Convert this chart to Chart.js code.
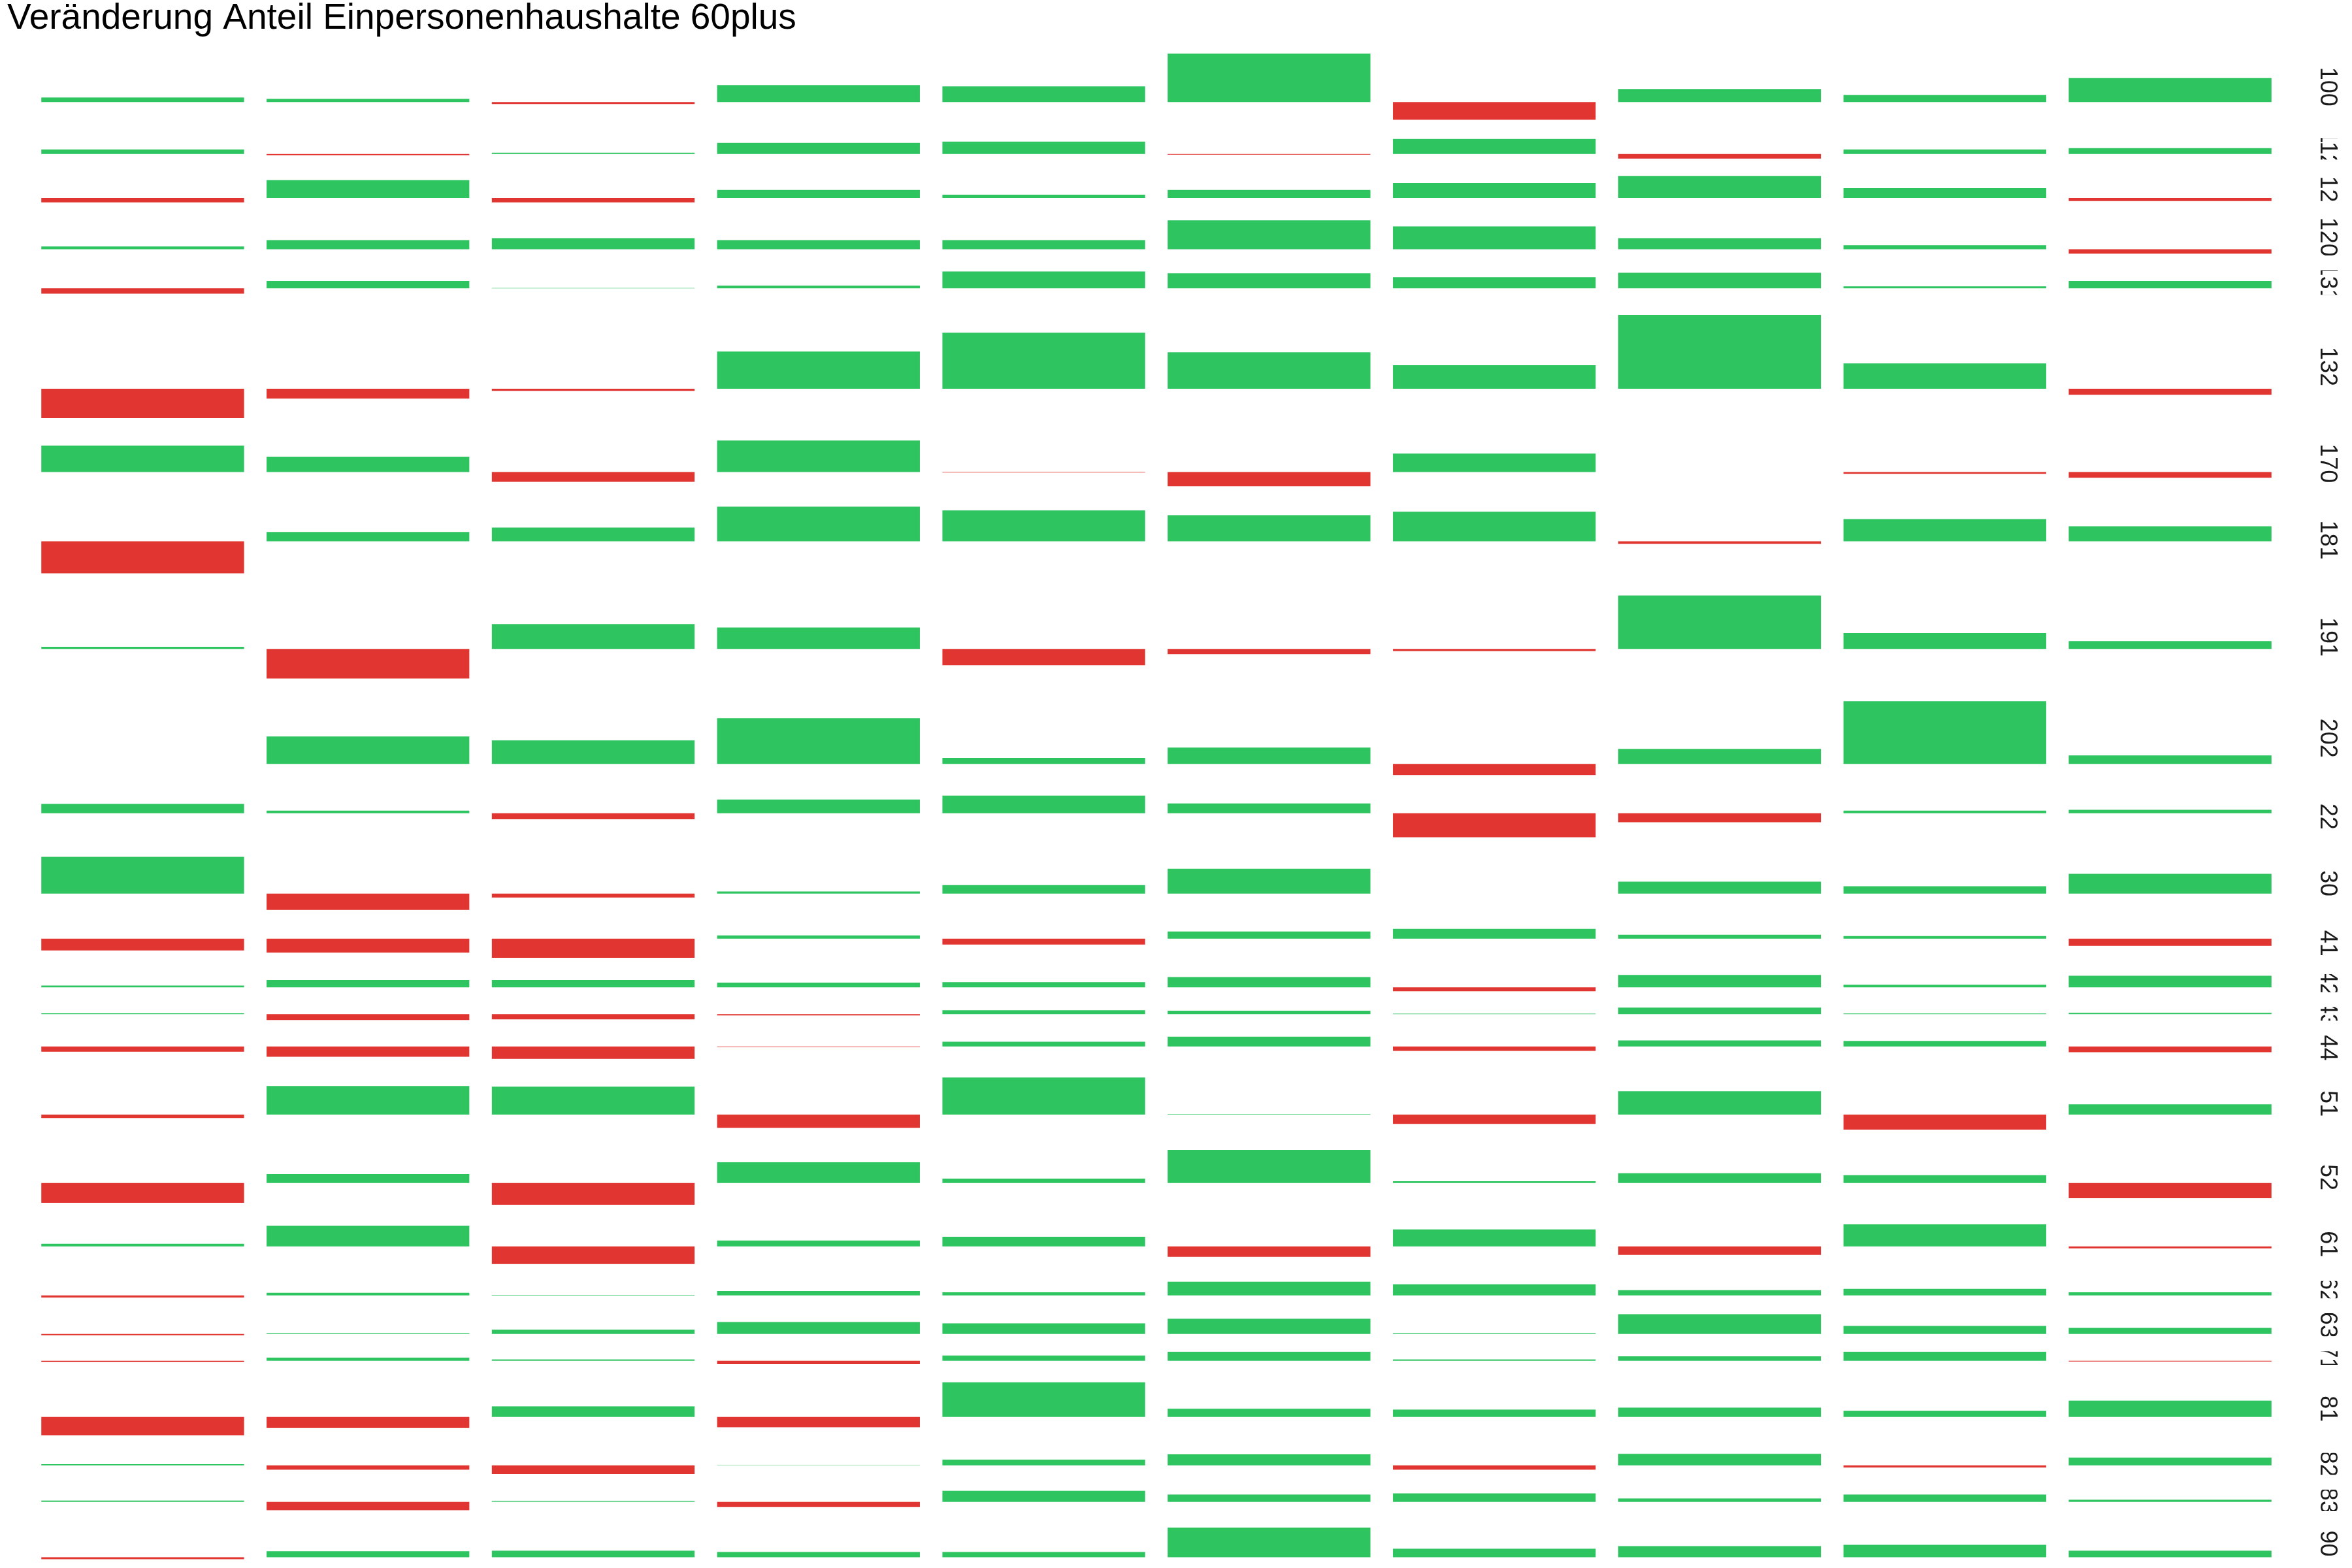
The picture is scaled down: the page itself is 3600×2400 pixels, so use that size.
<!doctype html>
<html lang="de">
<head>
  <meta charset="utf-8">
  <title>Veränderung Anteil Einpersonenhaushalte 60plus</title>
  <script src="https://cdn.jsdelivr.net/npm/chart.js"></script>
  <style>
    html, body {
      margin: 0;
      padding: 0;
      background-color: #ffffff;
    }
    #chart {
      display: block;
      width: 3600px;
      height: 2400px;
    }
  </style>
</head>
<body>
  <canvas id="chart" width="3600" height="2400"></canvas>

  <script>
    // Daten (Veränderung in Prozentpunkten)
    const titel = "Veränderung Anteil Einpersonenhaushalte 60plus";
    const spalten = ["1", "2", "3", "4", "5", "6", "7", "8", "9", "10"];
    const zeilen = ["100", "112", "12", "120", "131", "132", "170", "181", "191", "202", "22", "30", "41",
                    "42", "43", "44", "51", "52", "61", "62", "63", "71", "81", "82", "83", "90"];

    const w100 = [0.36, 0.26, -0.14, 1.31, 1.21, 3.72, -1.35, 1.01, 0.56, 1.86];
    const w112 = [0.34, -0.10, 0.10, 0.85, 0.95, -0.06, 1.15, -0.36, 0.34, 0.44];
    const w12  = [-0.34, 1.37, -0.34, 0.62, 0.26, 0.62, 1.15, 1.70, 0.75, -0.24];
    const w120 = [0.22, 0.71, 0.85, 0.71, 0.71, 2.22, 1.76, 0.85, 0.32, -0.34];
    const w131 = [-0.42, 0.56, 0.02, 0.20, 1.29, 1.15, 0.85, 1.19, 0.14, 0.56];
    const w132 = [-2.26, -0.75, -0.16, 2.85, 4.29, 2.79, 1.80, 5.66, 1.94, -0.46];
    const w170 = [2.02, 1.17, -0.75, 2.41, -0.04, -1.09, 1.41, 0, -0.14, -0.44];
    const w181 = [-2.45, 0.71, 1.05, 2.65, 2.36, 2.00, 2.26, -0.20, 1.70, 1.15];
    const w191 = [0.16, -2.26, 1.90, 1.64, -1.25, -0.40, -0.16, 4.09, 1.21, 0.60];
    const w202 = [0, 2.10, 1.80, 3.50, 0.46, 1.25, -0.85, 1.15, 4.81, 0.65];
    const w22  = [0.71, 0.20, -0.46, 1.05, 1.35, 0.75, -1.84, -0.69, 0.20, 0.26];
    const w30  = [2.81, -1.25, -0.30, 0.16, 0.65, 1.90, 0, 0.91, 0.56, 1.51];
    const w41  = [-0.91, -1.07, -1.47, 0.24, -0.46, 0.54, 0.75, 0.30, 0.20, -0.56];
    const w42  = [0.14, 0.56, 0.56, 0.36, 0.40, 0.79, -0.30, 0.95, 0.20, 0.89];
    const w43  = [0.06, -0.46, -0.40, -0.10, 0.30, 0.26, 0.03, 0.50, 0.05, 0.10];
    const w44  = [-0.40, -0.79, -0.95, -0.04, 0.36, 0.75, -0.34, 0.46, 0.42, -0.44];
    const w51  = [-0.26, 2.20, 2.14, -1.01, 2.85, 0.04, -0.71, 1.80, -1.15, 0.79];
    const w52  = [-1.51, 0.69, -1.66, 1.59, 0.34, 2.54, 0.14, 0.75, 0.60, -1.17];
    const w61  = [0.20, 1.60, -1.35, 0.46, 0.75, -0.79, 1.31, -0.65, 1.70, -0.14];
    const w62  = [-0.16, 0.20, 0.04, 0.34, 0.24, 1.05, 0.85, 0.40, 0.50, 0.24];
    const w63  = [-0.10, 0.06, 0.32, 0.91, 0.81, 1.17, 0.06, 1.51, 0.62, 0.46];
    const w71  = [-0.10, 0.24, 0.10, -0.26, 0.40, 0.69, 0.10, 0.34, 0.69, -0.06];
    const w81  = [-1.41, -0.85, 0.81, -0.79, 2.65, 0.62, 0.56, 0.71, 0.46, 1.25];
    const w82  = [0.10, -0.32, -0.65, 0.03, 0.44, 0.85, -0.32, 0.89, -0.16, 0.60];
    const w83  = [0.10, -0.64, 0.06, -0.40, 0.85, 0.56, 0.65, 0.26, 0.56, 0.16];
    const w90  = [-0.16, 0.46, 0.50, 0.40, 0.40, 2.26, 0.65, 0.85, 0.95, 0.50];

    const werte = [w100, w112, w12, w120, w131, w132, w170, w181, w191, w202, w22, w30, w41,
                   w42, w43, w44, w51, w52, w61, w62, w63, w71, w81, w82, w83, w90];

    const GRUEN = "#2ec460";
    const ROT = "#e03530";
    const ABSTAND = 1.14; // Abstand zwischen den Zeilen, in Datenwerten

    // Jede Zeile bekommt eine eigene y-Achse; die Achsen werden gestapelt,
    // Höhe jeweils proportional zur Spannweite (wie facet_grid mit space = "free")
    const grenzen = werte.map(reihe => {
      const hi = Math.max(0, ...reihe);
      const lo = Math.min(0, ...reihe);
      const rand = (hi - lo) * 0.05;
      return { oben: hi + rand, unten: lo - rand };
    });

    const scales = {
      x: { type: "category", labels: spalten, display: false, offset: true },
      links: {
        type: "linear", position: "left", display: false,
        afterFit: s => { s.width = 35; }
      }
    };

    grenzen.forEach((g, i) => {
      const max = g.oben + (i === 0 ? 0 : ABSTAND / 2);
      const min = g.unten - (i === werte.length - 1 ? 0 : ABSTAND / 2);
      scales["y" + i] = {
        type: "linear",
        position: "right",
        stack: "zeilen",
        stackWeight: max - min,
        min: min,
        max: max,
        display: false,
        afterFit: s => { s.width = 106; }
      };
    });

    // Beschriftung der Zeilen rechts, gedreht und auf die Zeilenhöhe beschnitten
    const streifen = {
      id: "streifen",
      afterDraw(chart) {
        const ctx = chart.ctx;
        grenzen.forEach((g, i) => {
          const sc = chart.scales["y" + i];
          const y0 = sc.getPixelForValue(g.oben);
          const y1 = sc.getPixelForValue(g.unten);
          ctx.save();
          ctx.beginPath();
          ctx.rect(chart.chartArea.right, y0, chart.width - chart.chartArea.right, y1 - y0);
          ctx.clip();
          ctx.translate(3562, (y0 + y1) / 2);
          ctx.rotate(Math.PI / 2);
          ctx.font = "36px 'Liberation Sans', Arial, sans-serif";
          ctx.fillStyle = "#1a1a1a";
          ctx.textAlign = "center";
          ctx.textBaseline = "middle";
          ctx.fillText(zeilen[i], 0, 0);
          ctx.restore();
        });
      }
    };

    new Chart(document.getElementById("chart"), {
      type: "bar",
      data: {
        labels: spalten,
        datasets: werte.map((reihe, i) => ({
          label: zeilen[i],
          data: reihe,
          xAxisID: "x",
          yAxisID: "y" + i,
          backgroundColor: reihe.map(v => v < 0 ? ROT : GRUEN),
          borderWidth: 0,
          grouped: false,
          barPercentage: 0.9,
          categoryPercentage: 1
        }))
      },
      options: {
        responsive: false,
        devicePixelRatio: 1,
        animation: false,
        layout: { padding: { left: 11, right: 0, top: 0, bottom: 11 } },
        scales: scales,
        plugins: {
          legend: { display: false },
          tooltip: { enabled: false },
          title: {
            display: true,
            text: titel,
            align: "start",
            color: "#000000",
            font: { family: "'Liberation Sans', Arial, sans-serif", size: 55, weight: "normal", lineHeight: 0.8 },
            padding: { top: 7, bottom: 26 }
          }
        }
      },
      plugins: [streifen]
    });
  </script>
</body>
</html>
